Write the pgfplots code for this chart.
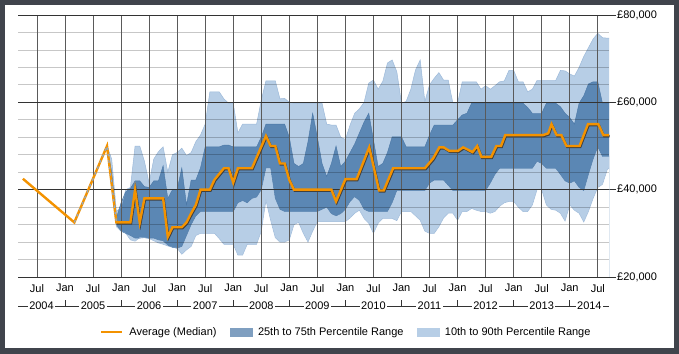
\documentclass[border=0pt]{standalone}
\usepackage{fontspec}
\setmainfont{Liberation Sans}
\usepackage{pgfplots}
\pgfplotsset{compat=1.18}
\usepackage{pgfplotstable}
\definecolor{framecol}{HTML}{40444C}
\definecolor{lightband}{HTML}{B7CEE6}
\definecolor{lightedge}{HTML}{9DBADA}
\definecolor{darkband}{HTML}{5B87B4}
\definecolor{darkedge}{HTML}{4A77A6}
\definecolor{legdark}{HTML}{7F9FC0}
\definecolor{medorange}{HTML}{F39200}
\definecolor{majgrid}{HTML}{333333}
\definecolor{vgrid}{HTML}{5A5A5A}
\definecolor{dashblue}{HTML}{8DA9CA}

\pgfplotstableread{
m p10 p25 p75 p90
21 50 50 50 50
22 40 41 44 47
23 31.5 32 33.5 35
24 30.5 30.5 37 36
25 30 30 39.5 40
26 28.5 29.5 40.3 40.5
27 28.2 28.9 42 50
28 29 28.9 42 50
29 29 29 40.7 46.5
30 28.8 28.9 40.5 41.5
31 28.3 28.9 42 47
32 27.8 28.5 42 48.7
33 27.5 28.3 45.5 49.8
34 27.1 27.3 38 44
35 26.8 26.8 40 48
36 26.6 26.6 40 48.5
37 25.2 27 45 49.5
38 26.2 29.5 36.5 47.8
39 27 32 42.2 48.5
40 29.5 34 42.2 51
41 30 35 45 52.5
42 30 35 49.8 55
43 30 35 49.8 62.4
44 30 35 49.8 62.4
45 28.8 35 49.8 62.4
46 27.5 35 50.2 60.8
47 27.5 35 50.2 59.8
48 27.5 35 49.8 59.8
49 25 37 49.8 53
50 25 37.5 49.8 55
51 27.5 37 49.8 55
52 27.5 38 49.8 55
53 27.5 38.3 49.8 55
54 30.5 40 52 60.5
55 37.5 45 55 64.9
56 33 45 55 64.9
57 29 38 55 64.9
58 28 35.5 55 60.8
59 28 35 55 60.9
60 28.5 35 52 60
61 32 35 46 59.8
62 32.5 35 45.3 59.8
63 30 35 46 59.8
64 28 35 51 59.8
65 30.5 35 57.5 59.8
66 32.7 35 52 59.8
67 32.7 35.5 46 59.8
68 32.7 36 43 55
69 32.7 34.5 46 54.8
70 32.7 34 50 54.8
71 32.7 34.5 45.3 52
72 32.7 35.5 46.5 51.5
73 33.5 37.3 48.5 54.8
74 34.6 38.4 50.5 57.5
75 35.3 37.5 53 58.5
76 33.4 35.5 55.5 60
77 32.3 35 57.5 64.4
78 30 35 51.4 65.1
79 32.3 35 45.3 63
80 33.4 35 46 64.8
81 33.4 35 48.5 69
82 33.4 37 52.1 69.7
83 32.9 39.8 52.1 67
84 35 39.8 52.1 59.8
85 35 39.8 49.8 60.2
86 35 39.8 49.8 63
87 34 39.8 49.8 67.4
88 33 39.8 49.8 69.7
89 30.5 39.8 49.8 60.2
90 30 41.5 52.5 64
91 30 42.2 54.8 65.5
92 31.5 42.2 54.8 66.8
93 33.5 42.2 54.8 65.1
94 34.6 41 54.8 65.1
95 34.6 39.8 54.8 59.8
96 33 39.8 56 59.8
97 35 39.8 57.1 64.7
98 35 39.8 57.5 64.7
99 35.7 39.8 59.8 64.7
100 35.3 39.8 59.8 64.7
101 35 39.8 59.8 63
102 35 39.8 59.8 63.8
103 34.6 41.5 59.8 63
104 35 43.5 59.8 63.8
105 36.2 44.9 59.8 64.7
106 37 44.9 59.8 64.9
107 37.3 44.9 59.8 67.3
108 37.3 44.9 59.8 67.3
109 36 44.9 59.8 64.7
110 35 44.9 59.8 64.7
111 35 44.9 58.8 62.4
112 36.5 44.9 57.5 63
113 40 46.5 57.5 65
114 40 46 57.5 65
115 36.5 44.9 59.8 65
116 35.5 44.9 59.8 65
117 35.3 44.9 59.8 65
118 34.6 43.5 59 67.3
119 32.8 42 57.5 67.2
120 36.5 41.5 56.5 66.5
121 35.3 42 55 66
122 34.6 40.5 59.8 68
123 32.6 39.8 61.5 70.5
124 35 43.5 64.2 72.5
125 38 47 64.7 74.5
126 40.5 49.8 64.7 75.8
127 41.2 47.6 59.8 74.8
128 44.5 47.6 59.8 74.7
128.4 45 47.6 59.8 74.7
}\bands

\pgfplotstableread{
m med
3 42.5
14 32.5
21 50
23 32.5
26 32.5
27 40
28 32.5
29 38
33 38
34 29.2
35 31.4
37 31.4
38 32.5
39 34.6
40 36.5
41 40
43 40
44 42.3
46 44.9
47 44.9
48 41.6
49 44.9
52 44.9
55 52.3
56 50
57 50
58 46
59 46
60 42.2
61 40
69 40
70 37.3
72 42.4
74.4 42.4
77.1 49.7
79.2 39.8
80.2 39.8
82.2 44.9
89 44.9
90.8 47.2
92.1 49.7
93 49.7
94.2 48.9
96.1 48.9
97.2 49.7
99.2 48.6
100.2 50
101.1 47.5
103.2 47.5
104.3 50
105.3 50
106.2 52.5
114.3 52.5
115.4 52.9
116.1 55
117.2 52.5
118.2 52.5
119.3 50
122.1 50
123.9 55
126.1 55
127.2 52.5
128.4 52.5
}\median

\begin{document}
\fontsize{11bp}{13bp}\selectfont
\begin{tikzpicture}
\fill[framecol] (0bp,0bp) rectangle (679bp,354bp);
\fill[white] (5bp,6bp) rectangle (674bp,349bp);
\begin{axis}[
  at={(18bp,77bp)}, anchor=south west,
  scale only axis, width=591bp, height=262bp,
  xmin=1.95, xmax=128.4, ymin=20, ymax=80,
  axis line style={draw=none},
  clip mode=individual,
  xtick={6,12,...,126},
  xticklabels={Jul,Jan,Jul,Jan,Jul,Jan,Jul,Jan,Jul,Jan,Jul,Jan,Jul,Jan,Jul,Jan,Jul,Jan,Jul,Jan,Jul},
  xtick pos=bottom,
  xtick style={draw=none},
  xticklabel style={inner ysep=0pt},
  ytick={20,40,60,80},
  yticklabels={{£20,000},{£40,000},{£60,000},{£80,000}},
  ytick pos=right, yticklabel pos=right,
  tick align=outside, major tick length=7bp,
  ytick style={draw=majgrid, line width=0.8bp},
  yticklabel style={inner xsep=1bp},
  legend columns=3,
  legend style={at={(rel axis cs:0.1387,-0.21)}, anchor=west, draw=none, fill=none,
    inner sep=0pt, outer sep=0pt,
    nodes={inner xsep=0pt, inner ysep=1bp},
    /tikz/every odd column/.append style={column sep=6bp},
    /tikz/every even column/.append style={column sep=13bp}},
]
\addlegendimage{legend image code/.code={\draw[medorange, line width=2.4bp] (0bp,0bp) -- (21bp,0bp);}}
\addlegendentry{Average (Median)}
\addlegendimage{legend image code/.code={\fill[legdark] (0bp,-4bp) rectangle (22bp,4bp);}}
\addlegendentry{25th to 75th Percentile Range}
\addlegendimage{legend image code/.code={\fill[lightband] (0bp,-4bp) rectangle (22bp,4bp);}}
\addlegendentry{10th to 90th Percentile Range}

% stacked fills: under p90 light, under p75 dark, under p25 light, under p10 white
\addplot[fill=lightband, draw=none, forget plot] table[x=m,y=p90]{\bands} \closedcycle;
\addplot[fill=darkband, draw=none, forget plot] table[x=m,y=p75]{\bands} \closedcycle;
\addplot[fill=lightband, draw=none, forget plot] table[x=m,y=p25]{\bands} \closedcycle;
\addplot[fill=white, draw=none, forget plot] table[x=m,y=p10]{\bands} \closedcycle;
% band edges
\addplot[lightedge, line width=0.5bp, forget plot] table[x=m,y=p90]{\bands};
\addplot[lightedge, line width=0.5bp, forget plot] table[x=m,y=p10]{\bands};
\addplot[darkedge, line width=0.4bp, forget plot] table[x=m,y=p75]{\bands};
\addplot[darkedge, line width=0.4bp, forget plot] table[x=m,y=p25]{\bands};

\pgfplotsinvokeforeach{24,28,32,36,44,48,52,56,64,68,72,76}{
  \draw[black, draw opacity=0.22, line width=0.8bp] (axis cs:1.95,#1) -- (axis cs:128.4,#1);
}
\pgfplotsinvokeforeach{6,12,...,126}{
  \draw[vgrid, line width=0.8bp] (axis cs:#1,20) -- (axis cs:#1,80);
}
\pgfplotsinvokeforeach{20,40,60,80}{
  \draw[majgrid, line width=0.8bp] (axis cs:1.95,#1) -- (axis cs:128.4,#1);
}

\addplot[black!75, line width=2.2bp, restrict x to domain=23:129, forget plot,
  transform canvas={xshift=0.7bp, yshift=-1.1bp}] table[x=m,y=med]{\median};
\addplot[medorange, line width=2.4bp, forget plot] table[x=m,y=med]{\median};
\addplot[dashblue, line width=1.2bp, dash pattern=on 2.5bp off 4bp, restrict x to domain=14:23, forget plot] table[x=m,y=med]{\median};

% year row
\draw[majgrid, line width=0.8bp] (axis cs:1.95,13.36) -- (axis cs:128.4,13.36);
\pgfplotsinvokeforeach{12,24,...,120}{
  \draw[majgrid, line width=0.8bp] (axis cs:#1,13.36) -- (axis cs:#1,14.7);
}
\node[fill=white, inner xsep=1.5bp, inner ysep=1bp] at (axis cs:6.975,13.36) {2004};
\node[fill=white, inner xsep=1.5bp, inner ysep=1bp] at (axis cs:18,13.36) {2005};
\node[fill=white, inner xsep=1.5bp, inner ysep=1bp] at (axis cs:30,13.36) {2006};
\node[fill=white, inner xsep=1.5bp, inner ysep=1bp] at (axis cs:42,13.36) {2007};
\node[fill=white, inner xsep=1.5bp, inner ysep=1bp] at (axis cs:54,13.36) {2008};
\node[fill=white, inner xsep=1.5bp, inner ysep=1bp] at (axis cs:66,13.36) {2009};
\node[fill=white, inner xsep=1.5bp, inner ysep=1bp] at (axis cs:78,13.36) {2010};
\node[fill=white, inner xsep=1.5bp, inner ysep=1bp] at (axis cs:90,13.36) {2011};
\node[fill=white, inner xsep=1.5bp, inner ysep=1bp] at (axis cs:102,13.36) {2012};
\node[fill=white, inner xsep=1.5bp, inner ysep=1bp] at (axis cs:114,13.36) {2013};
\node[fill=white, inner xsep=1.5bp, inner ysep=1bp] at (axis cs:124.2,13.36) {2014};
\end{axis}
\end{tikzpicture}
\end{document}
